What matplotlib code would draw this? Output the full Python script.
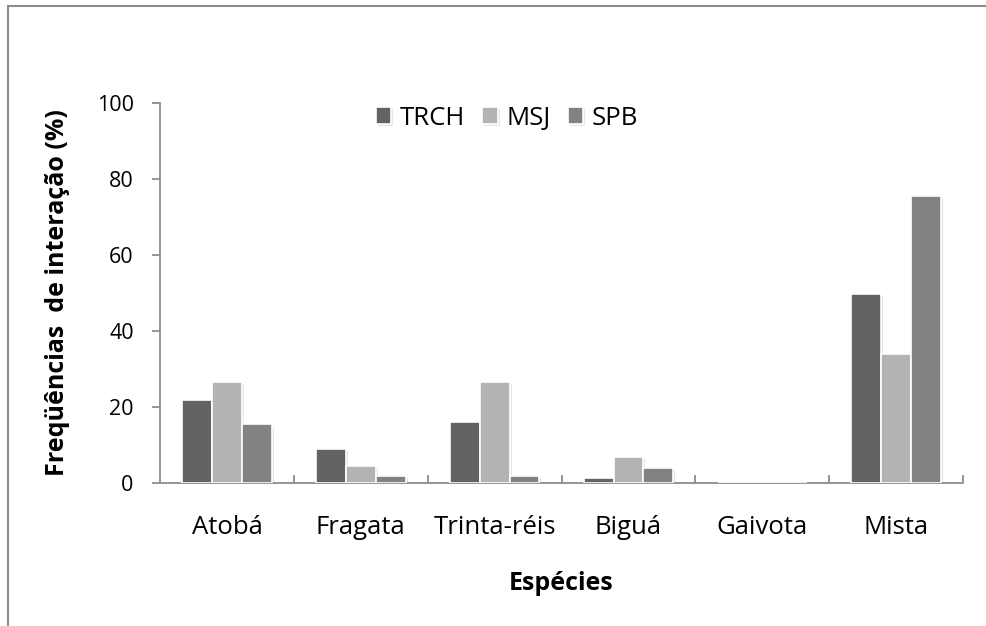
import numpy as np
import matplotlib.pyplot as plt
from matplotlib import patheffects
from matplotlib.patches import Rectangle

plt.rcParams['font.family'] = ['Open Sans', 'DejaVu Sans']

# dados: frequências de interação por espécie (%)
especies = ['Atobá', 'Fragata', 'Trinta-réis', 'Biguá', 'Gaivota', 'Mista']
trch = [21.8, 8.9, 16.1, 1.4, 0.0, 49.7]
msj = [26.7, 4.6, 26.5, 6.9, 0.0, 33.9]
spb = [15.4, 1.8, 1.8, 3.9, 0.0, 75.5]

series = ['TRCH', 'MSJ', 'SPB']
cores = ['#636363', '#b3b3b3', '#828282']

fig = plt.figure(figsize=(9.86, 6.26), dpi=100)
ax = fig.add_axes([0.1623, 0.2284, 0.8144, 0.6071])

x = np.arange(len(especies))
w = 0.223
sombra = [patheffects.SimplePatchShadow(offset=(1.5, -1.5), shadow_rgbFace='#999999', alpha=0.25),
          patheffects.Normal()]
for i, (nome, vals, cor) in enumerate(zip(series, [trch, msj, spb], cores)):
    barras = ax.bar(x + (i - 1) * w, vals, w, color=cor, edgecolor='white',
                    linewidth=1.2, label=nome, zorder=3)
    for b in barras:
        b.set_path_effects(sombra)

ax.set_xlim(-0.5, 5.5)
ax.set_ylim(0, 100)
ax.set_yticks([0, 20, 40, 60, 80, 100])
ax.set_xticks(x)
ax.set_xticklabels(especies)
ax.set_xticks(np.arange(0.5, 6, 1), minor=True)

for s in ['top', 'right']:
    ax.spines[s].set_visible(False)
for s in ['left', 'bottom']:
    ax.spines[s].set_color('#8c8c8c')
    ax.spines[s].set_linewidth(1.3)

ax.tick_params(axis='y', direction='out', length=6, width=1.3, color='#8c8c8c',
               labelsize=15.5, pad=13)
ax.tick_params(axis='x', which='major', length=0, labelsize=18.5, pad=23)
ax.tick_params(axis='x', which='minor', direction='in', length=6, width=1.3, color='#8c8c8c')

ax.set_ylabel('Freqüências  de interação (%)', fontsize=18, fontweight='bold', labelpad=19)
ax.set_xlabel('Espécies', fontsize=18, fontweight='bold', labelpad=22)

ax.legend(loc='center', bbox_to_anchor=(507 / 986, 1 - 118 / 626),
          bbox_transform=fig.transFigure, ncol=3, frameon=False, fontsize=18.5,
          handlelength=0.6, handleheight=0.6, handletextpad=0.35, columnspacing=0.65)

# moldura do gráfico
fig.patches.append(Rectangle((8 / 986, -0.1), 1.2, 1 - 6 / 626 + 0.1, transform=fig.transFigure,
                             fill=False, edgecolor='#8c8c8c', linewidth=1.5))

fig.savefig('out.png', dpi=100)
